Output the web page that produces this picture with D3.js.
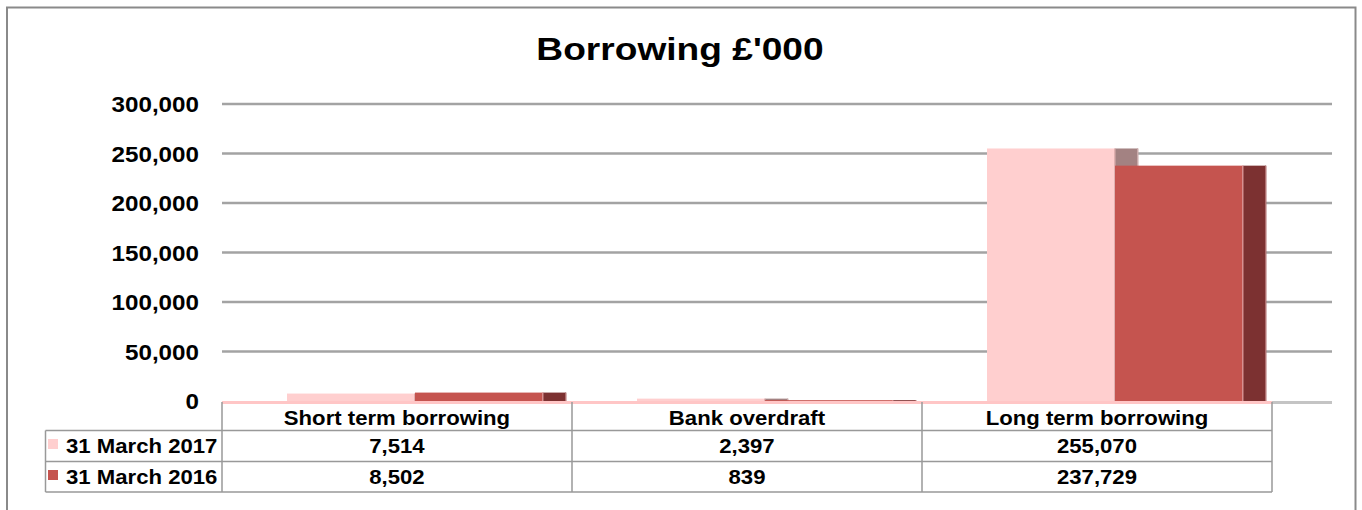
<!DOCTYPE html>
<html><head><meta charset="utf-8">
<script src="https://cdn.jsdelivr.net/npm/d3@7"></script>
<style>html,body{margin:0;padding:0;background:#fff;} svg text{font-family:"Liberation Sans",Arial,sans-serif;font-weight:bold;fill:#000;}</style>
</head><body><svg id="c" width="1362" height="510"></svg>
<script>
const categories = ["Short term borrowing", "Bank overdraft", "Long term borrowing"];
const seriesNames = ["31 March 2017", "31 March 2016"];
const values2017 = [7514, 2397, 255070];
const values2016 = [8502, 839, 237729];
const yTicks = [0, 50000, 100000, 150000, 200000, 250000, 300000];
const title = "Borrowing £'000";

const frontColors = ["#ffcfcf", "#c5544f"];
const sideColors = ["#a38282", "#7c3131"];

const svg = d3.select("#c");
const plotL = 222, plotR = 1272, gridR = 1332, y0 = 401, yTop = 104;
const x = d3.scaleBand().domain(categories).range([plotL, plotR]).padding(0);
const y = d3.scaleLinear().domain([0, 300000]).range([y0, yTop]);
const fmt = d3.format(",");
const series = [values2017, values2016];

function stretch(sel, f) {
  sel.each(function () {
    const len = this.getComputedTextLength();
    d3.select(this).attr("textLength", len * f).attr("lengthAdjust", "spacingAndGlyphs");
  });
}

// frame
svg.append("rect").attr("x", 7).attr("y", 7.5).attr("width", 1348.5).attr("height", 530)
  .attr("fill", "none").attr("stroke", "#8a8a8a").attr("stroke-width", 2);

// title
svg.append("text").attr("x", 680).attr("y", 60).attr("text-anchor", "middle")
  .attr("font-size", 32).text(title).call(stretch, 1.16);

// gridlines
svg.append("g").selectAll("line").data(yTicks.filter(d => d > 0)).join("line")
  .attr("x1", plotL).attr("x2", gridR).attr("y1", d => y(d)).attr("y2", d => y(d))
  .attr("stroke", "#a3a3a3").attr("stroke-width", 2.5);

// y axis labels
svg.append("g").selectAll("text").data(yTicks).join("text")
  .attr("x", 199).attr("y", d => y(d) + 8).attr("text-anchor", "end")
  .attr("font-size", 22).text(d => fmt(d)).call(stretch, 1.1);

// floor
svg.append("rect").attr("x", plotR).attr("y", y0).attr("width", gridR - plotR).attr("height", 3).attr("fill", "#c4c4c4");
svg.append("rect").attr("x", plotL).attr("y", y0).attr("width", plotR - plotL).attr("height", 3).attr("fill", "#ffc6c6");

// bars
const barOff = 65, barW = 128, depth = 23;
const gBars = svg.append("g");
categories.forEach((c, i) => {
  series.forEach((vals, s) => {
    const bx = x(c) + barOff + s * barW;
    const top = y(vals[i]);
    const h = y0 - top;
    gBars.append("rect").attr("x", bx + barW).attr("y", top).attr("width", depth).attr("height", h)
      .attr("fill", sideColors[s]);
    gBars.append("rect").attr("x", bx + barW + depth - 1).attr("y", top).attr("width", 1.5).attr("height", h)
      .attr("fill", s === 0 ? "#c9a9a9" : "#b07070");
  });
  series.forEach((vals, s) => {
    const bx = x(c) + barOff + s * barW;
    const top = y(vals[i]);
    const h = y0 - top;
    gBars.append("rect").attr("x", bx).attr("y", top).attr("width", barW).attr("height", h)
      .attr("fill", frontColors[s]);
    gBars.append("rect").attr("x", bx + barW - 1).attr("y", top).attr("width", 1.5).attr("height", h)
      .attr("fill", s === 0 ? "#e0b0b0" : "#d89090");
  });
});

// data table
const tTop = 402, r1 = 430.5, r2 = 461.5, r3 = 492;
const legL = 45.5;
const lineC = "#999", lw = 1.5;
const tg = svg.append("g");
const colEdges = categories.map(c => x(c)).concat([plotR]);
tg.selectAll("line.v").data(colEdges).join("line").attr("class", "v")
  .attr("x1", d => d).attr("x2", d => d).attr("y1", tTop).attr("y2", r3)
  .attr("stroke", lineC).attr("stroke-width", lw);
tg.append("line").attr("x1", legL).attr("x2", legL).attr("y1", r1).attr("y2", r3).attr("stroke", lineC).attr("stroke-width", lw);
[r1, r2, r3].forEach(r => tg.append("line").attr("x1", legL).attr("x2", plotR).attr("y1", r).attr("y2", r).attr("stroke", lineC).attr("stroke-width", lw));

const tf = 20.5, tStretch = 1.08;
tg.selectAll("text.cat").data(categories).join("text").attr("class", "cat")
  .attr("x", d => x(d) + x.bandwidth() / 2).attr("y", 425).attr("text-anchor", "middle")
  .attr("font-size", tf).text(d => d).call(stretch, tStretch);

const rowBase = [453, 484];
series.forEach((vals, s) => {
  tg.append("rect").attr("x", 48).attr("y", rowBase[s] - 14).attr("width", 10).attr("height", 10).attr("fill", frontColors[s]);
  tg.append("text").attr("x", 66).attr("y", rowBase[s]).attr("font-size", tf).text(seriesNames[s]).call(stretch, tStretch);
  tg.selectAll(null).data(categories).join("text")
    .attr("x", d => x(d) + x.bandwidth() / 2).attr("y", rowBase[s]).attr("text-anchor", "middle")
    .attr("font-size", tf).text((d, i) => fmt(vals[i])).call(stretch, tStretch);
});
</script></body></html>
